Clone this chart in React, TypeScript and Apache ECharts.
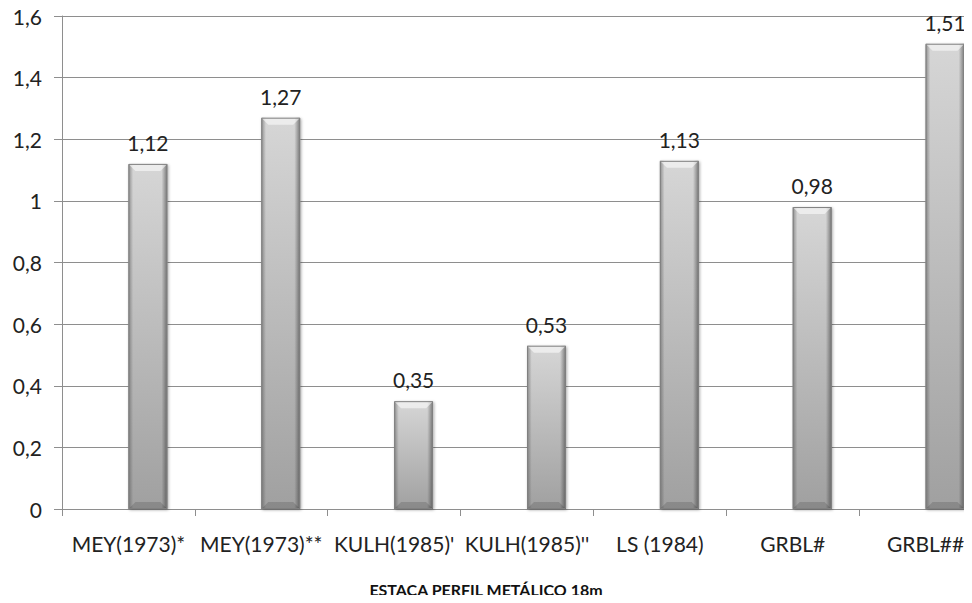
import React, { useEffect, useRef } from "react";
import * as echarts from "echarts";

const categories = [
  "MEY(1973)*",
  "MEY(1973)**",
  "KULH(1985)'",
  "KULH(1985)''",
  "LS (1984)",
  "GRBL#",
  "GRBL##",
];
const values = [1.12, 1.27, 0.35, 0.53, 1.13, 0.98, 1.51];
const yTicks = { min: 0, max: 1.6, interval: 0.2 };
const axisTitle = "ESTACA PERFIL METÁLICO 18m";

const FONT = "Lato, 'Noto Sans', sans-serif";
const fmt = (v: number) => String(Number(v.toFixed(2))).replace(".", ",");

export default function App() {
  const ref = useRef<HTMLDivElement>(null);
  useEffect(() => {
    if (!ref.current) return;
    const chart = echarts.init(ref.current, null, { renderer: "svg" });
    const renderItem = (params: any, api: any) => {
      const idx = api.value(0);
      const val = api.value(1);
      const top = api.coord([idx, val]);
      const base = api.coord([idx, 0]);
      const catW = api.size([1, 0])[0];
      const w = catW * 0.293;
      const x0 = top[0];
      const x1 = x0 + w;
      const y0 = top[1];
      const yb = base[1];
      const b = 7;
      return {
        type: "group",
        children: [
          {
            type: "rect",
            shape: { x: x0, y: y0, width: w, height: yb - y0 },
            style: {
              fill: new echarts.graphic.LinearGradient(0, 0, 0, 1, [
                { offset: 0, color: "#d6d6d6" },
                { offset: 1, color: "#a0a0a0" },
              ]),
              shadowBlur: 3,
              shadowColor: "rgba(0,0,0,0.35)",
              shadowOffsetX: 1,
              shadowOffsetY: 1,
            },
          },
          {
            type: "rect",
            shape: { x: x0, y: y0, width: w, height: yb - y0 },
            style: {
              fill: new echarts.graphic.LinearGradient(0, 0, 1, 0, [
                { offset: 0, color: "rgba(80,80,80,0.55)" },
                { offset: 0.12, color: "rgba(80,80,80,0)" },
                { offset: 0.85, color: "rgba(60,60,60,0)" },
                { offset: 1, color: "rgba(50,50,50,0.6)" },
              ]),
            },
          },
          {
            type: "polygon",
            shape: {
              points: [
                [x0, y0],
                [x1, y0],
                [x1 - b, y0 + b],
                [x0 + b, y0 + b],
              ],
            },
            style: { fill: "rgba(255,255,255,0.55)" },
          },
          {
            type: "polygon",
            shape: {
              points: [
                [x0, yb],
                [x1, yb],
                [x1 - b, yb - b],
                [x0 + b, yb - b],
              ],
            },
            style: { fill: "rgba(0,0,0,0.14)" },
          },
          {
            type: "rect",
            shape: { x: x0 + 0.5, y: y0 + 0.5, width: w - 1, height: yb - y0 - 1 },
            style: { fill: "none", stroke: "#808080", lineWidth: 1 },
          },
          {
            type: "text",
            x: x0 + w / 2,
            y: y0 - 11,
            style: {
              text: fmt(val),
              fontFamily: FONT,
              fontSize: 21,
              fill: "#222",
              align: "center",
              verticalAlign: "bottom",
            },
          },
        ],
      };
    };
    chart.setOption({
      animation: false,
      backgroundColor: "#fff",
      grid: {
        left: 62,
        top: 16,
        bottom: 94,
        width: 930,
        containLabel: false,
        outerBoundsMode: "none",
      },
      title: {
        text: axisTitle,
        left: "center",
        bottom: 1,
        textStyle: { fontFamily: FONT, fontSize: 16, fontWeight: "bold", color: "#111" },
      },
      xAxis: {
        type: "category",
        data: categories,
        boundaryGap: true,
        axisLine: { show: true, lineStyle: { color: "#8e8e8e", width: 1 } },
        axisTick: { show: true, length: 7, lineStyle: { color: "#8e8e8e" } },
        axisLabel: {
          interval: 0,
          margin: 24,
          fontFamily: FONT,
          fontSize: 21,
          color: "#222",
          hideOverlap: false,
        },
        splitLine: { show: false },
      },
      yAxis: {
        type: "value",
        min: yTicks.min,
        max: yTicks.max,
        interval: yTicks.interval,
        axisLine: { show: true, lineStyle: { color: "#8e8e8e", width: 1 } },
        axisTick: { show: true, length: 8, lineStyle: { color: "#8e8e8e" } },
        axisLabel: {
          margin: 20,
          fontFamily: FONT,
          fontSize: 21,
          color: "#222",
          formatter: (v: number) => fmt(v),
        },
        splitLine: { show: true, lineStyle: { color: "#8e8e8e", width: 1 } },
      },
      series: [
        {
          type: "custom",
          renderItem,
          encode: { x: 0, y: 1 },
          data: values.map((v, i) => [i, v]),
          clip: false,
          z: 3,
        },
      ],
    });
    return () => chart.dispose();
  }, []);
  return <div ref={ref} style={{ width: 972, height: 603, margin: -8 }} />;
}
